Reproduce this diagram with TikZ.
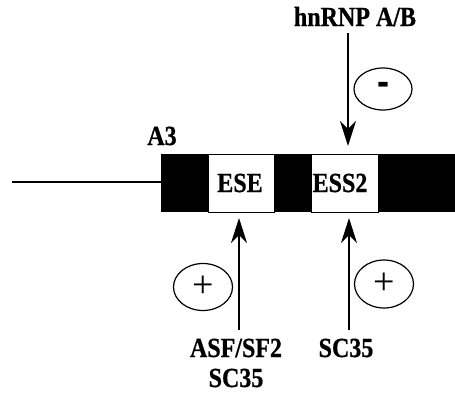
\documentclass[tikz,border=0pt]{standalone}
\usepackage{fontspec}
\usepackage{graphicx}
\setmainfont{Liberation Serif}[BoldFeatures={FakeBold=0.8}]
\usetikzlibrary{arrows.meta,shapes.geometric}
\newcommand{\tallt}[1]{\scalebox{1}[1.15]{#1}}
\tikzset{
  lbl/.style={font=\bfseries\fontsize{24}{26}\selectfont, inner sep=0pt},
  site/.style={draw=black, line width=0.6pt, fill=white},
  sign/.style={ellipse, draw, line width=1.2pt, inner sep=0pt},
  arr/.style={line width=1.6pt, -{Stealth[length=25pt,width=16pt,inset=8pt]}},
}
\begin{document}
\begin{tikzpicture}[x=1pt,y=-1pt]
\useasboundingbox (0,0) rectangle (455,394);
% intron line and exon bar
\coordinate (lstart) at (12,182);
\node[fill=black, minimum width=294pt, minimum height=58pt, inner sep=0pt, anchor=north west] (exon) at (161,154) {};
\draw[line width=1.6pt] (lstart) -- (lstart -| exon.west);
% sites
\node[site, minimum width=66pt, minimum height=58pt, inner sep=0pt, anchor=north west] (ese) at (208,154) {};
\node[site, minimum width=67pt, minimum height=58pt, inner sep=0pt, anchor=north west] (ess) at (311,154) {};
\node[lbl, anchor=base] (eset) at (240,192) {\tallt{ESE}};
\node[lbl, anchor=base] (esst) at (340,192) {\tallt{ESS2}};
% labels
\node[lbl, anchor=base] (a3) at (162,145) {\tallt{A3}};
\node[lbl, anchor=base] (hn) at (355,26) {\tallt{hnRNP A/B}};
\node[lbl, anchor=base] (asf) at (236,357) {\tallt{ASF/SF2}};
\node[lbl, anchor=base] (sc1) at (236,387) {\tallt{SC35}};
\node[lbl, anchor=base] (sc2) at (346,357) {\tallt{SC35}};
% sign circles
\node[sign, minimum width=58pt, minimum height=42pt] (minus) at (383,89)
  {\bfseries\fontsize{36}{36}\selectfont\scalebox{0.95}[1.4]{-}};
\node[sign, minimum width=59pt, minimum height=47pt] (plus1) at (203,287)
  {\fontsize{38}{38}\selectfont +};
\node[sign, minimum width=59pt, minimum height=48pt] (plus2) at (384,284)
  {\fontsize{38}{38}\selectfont +};
% arrows
\coordinate (d1) at (348,33);
\coordinate (d2) at (348,146);
\coordinate (u1a) at (239,330);
\coordinate (u1b) at (239,218);
\coordinate (u2a) at (349,330);
\coordinate (u2b) at (349,218);
\draw[arr] (d1) -- (d2);
\draw[arr] (u1a) -- (u1b);
\draw[arr] (u2a) -- (u2b);
\end{tikzpicture}
\end{document}
